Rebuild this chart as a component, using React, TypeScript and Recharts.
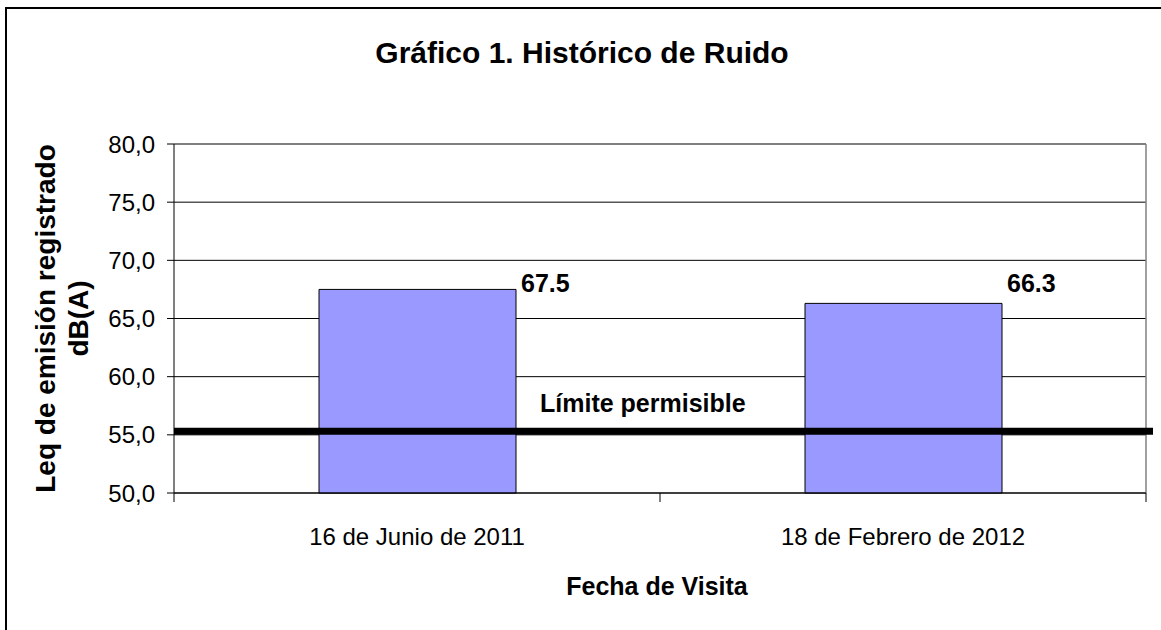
import React from 'react';
import { BarChart, Bar, XAxis, YAxis, CartesianGrid, ReferenceLine, LabelList } from 'recharts';

// datos del gráfico
const categories = ['16 de Junio de 2011', '18 de Febrero de 2012'];
const leqValues = [67.5, 66.3];
const yTicks = [50, 55, 60, 65, 70, 75, 80];
const LIMITE = 55.3;

const W = 1161;
const H = 630;
const M = { top: 144, right: 15, left: 0, bottom: 37 };
const Y_AXIS_W = 174;
const X_AXIS_H = 100;
const PLOT_BOTTOM = H - M.bottom - X_AXIS_H;
const BAND = (W - Y_AXIS_W - M.left - M.right) / categories.length;
const FONT = '"Liberation Sans", Arial, sans-serif';
const LABEL_LEVEL = 67.3;

const data = categories.map((name, i) => ({ name, leq: leqValues[i] }));

function XTick(props: any) {
  const { x, y, payload, index } = props;
  const half = BAND / 2;
  return (
    <g>
      <line x1={x - half} x2={x - half} y1={y} y2={y + 9} stroke="#000" />
      {index === categories.length - 1 && (
        <line x1={x + half} x2={x + half} y1={y} y2={y + 9} stroke="#000" />
      )}
      <text x={x} y={y + 52} textAnchor="middle" fontSize={24} fill="#000" fontFamily={FONT}>
        {payload.value}
      </text>
    </g>
  );
}

function ValueLabel(props: any) {
  const { x, y, width, height, value } = props;
  const bottom = y + height;
  const ppu = height / (value - 50);
  return (
    <text
      x={x + width + 5}
      y={bottom - (LABEL_LEVEL - 50) * ppu}
      fontSize={25}
      fontWeight="bold"
      fill="#000"
      fontFamily={FONT}
    >
      {value.toFixed(1)}
    </text>
  );
}

export default function App() {
  return (
    <div style={{ position: 'absolute', left: 0, top: 0, width: W, height: H, background: '#fff' }}>
      <BarChart width={W} height={H} data={data} margin={M}>
        <CartesianGrid vertical={false} stroke="#000" strokeOpacity={1} />
        <XAxis
          dataKey="name"
          height={X_AXIS_H}
          axisLine={{ stroke: '#000' }}
          tickLine={false}
          tickSize={0}
          tickMargin={0}
          tick={<XTick />}
          interval={0}
          label={{
            content: (p: any) => (
              <text
                x={p.viewBox.x + p.viewBox.width / 2 - 3}
                y={p.viewBox.y + 102}
                textAnchor="middle"
                fontSize={25}
                fontWeight="bold"
                fill="#000"
                fontFamily={FONT}
              >
                Fecha de Visita
              </text>
            ),
          }}
        />
        <YAxis
          width={Y_AXIS_W}
          domain={[50, 80]}
          ticks={yTicks}
          interval={0}
          axisLine={{ stroke: '#000' }}
          tickLine={{ stroke: '#000' }}
          tickSize={7}
          tickMargin={12}
          tick={{ fontSize: 24, fill: '#000', fontFamily: FONT }}
          tickFormatter={(v: number) => v.toFixed(1).replace('.', ',')}
          label={{
            content: (p: any) => {
              const cy = p.viewBox.y + p.viewBox.height / 2;
              return (
                <g fontSize={28} fontWeight="bold" fill="#000" fontFamily={FONT}>
                  <text x={55} y={cy} textAnchor="middle" transform={`rotate(-90, 55, ${cy})`}>
                    Leq de emisión registrado
                  </text>
                  <text x={88} y={cy} textAnchor="middle" transform={`rotate(-90, 88, ${cy})`}>
                    dB(A)
                  </text>
                </g>
              );
            },
          }}
        />
        <Bar dataKey="leq" fill="#9999FF" stroke="#000" strokeWidth={1} barSize={197} isAnimationActive={false}>
          <LabelList dataKey="leq" content={<ValueLabel />} />
        </Bar>
        <ReferenceLine
          y={80}
          shape={(p: any) => (
            <g stroke="#808080" strokeWidth={1.5}>
              <line x1={p.x1} y1={p.y1} x2={p.x2} y2={p.y1} />
              <line x1={p.x2} y1={p.y1} x2={p.x2} y2={PLOT_BOTTOM} />
            </g>
          )}
        />
        <ReferenceLine
          y={LIMITE}
          shape={(p: any) => (
            <g>
              <line x1={p.x1} y1={p.y1} x2={p.x2 + 7} y2={p.y1} stroke="#000" strokeWidth={7} />
              <text
                x={p.x1 + 366}
                y={p.y1 - 19}
                fontSize={25}
                fontWeight="bold"
                fill="#000"
                fontFamily={FONT}
              >
                Límite permisible
              </text>
            </g>
          )}
        />
      </BarChart>
      <svg
        width={W}
        height={H}
        style={{ position: 'absolute', left: 0, top: 0, pointerEvents: 'none' }}
      >
        <path d={`M6 ${H} L6 8 L${W} 8`} fill="none" stroke="#000" strokeWidth={2} />
        <text x={582} y={63} textAnchor="middle" fontSize={30} fontWeight="bold" fill="#000" fontFamily={FONT}>
          Gráfico 1. Histórico de Ruido
        </text>
      </svg>
    </div>
  );
}
